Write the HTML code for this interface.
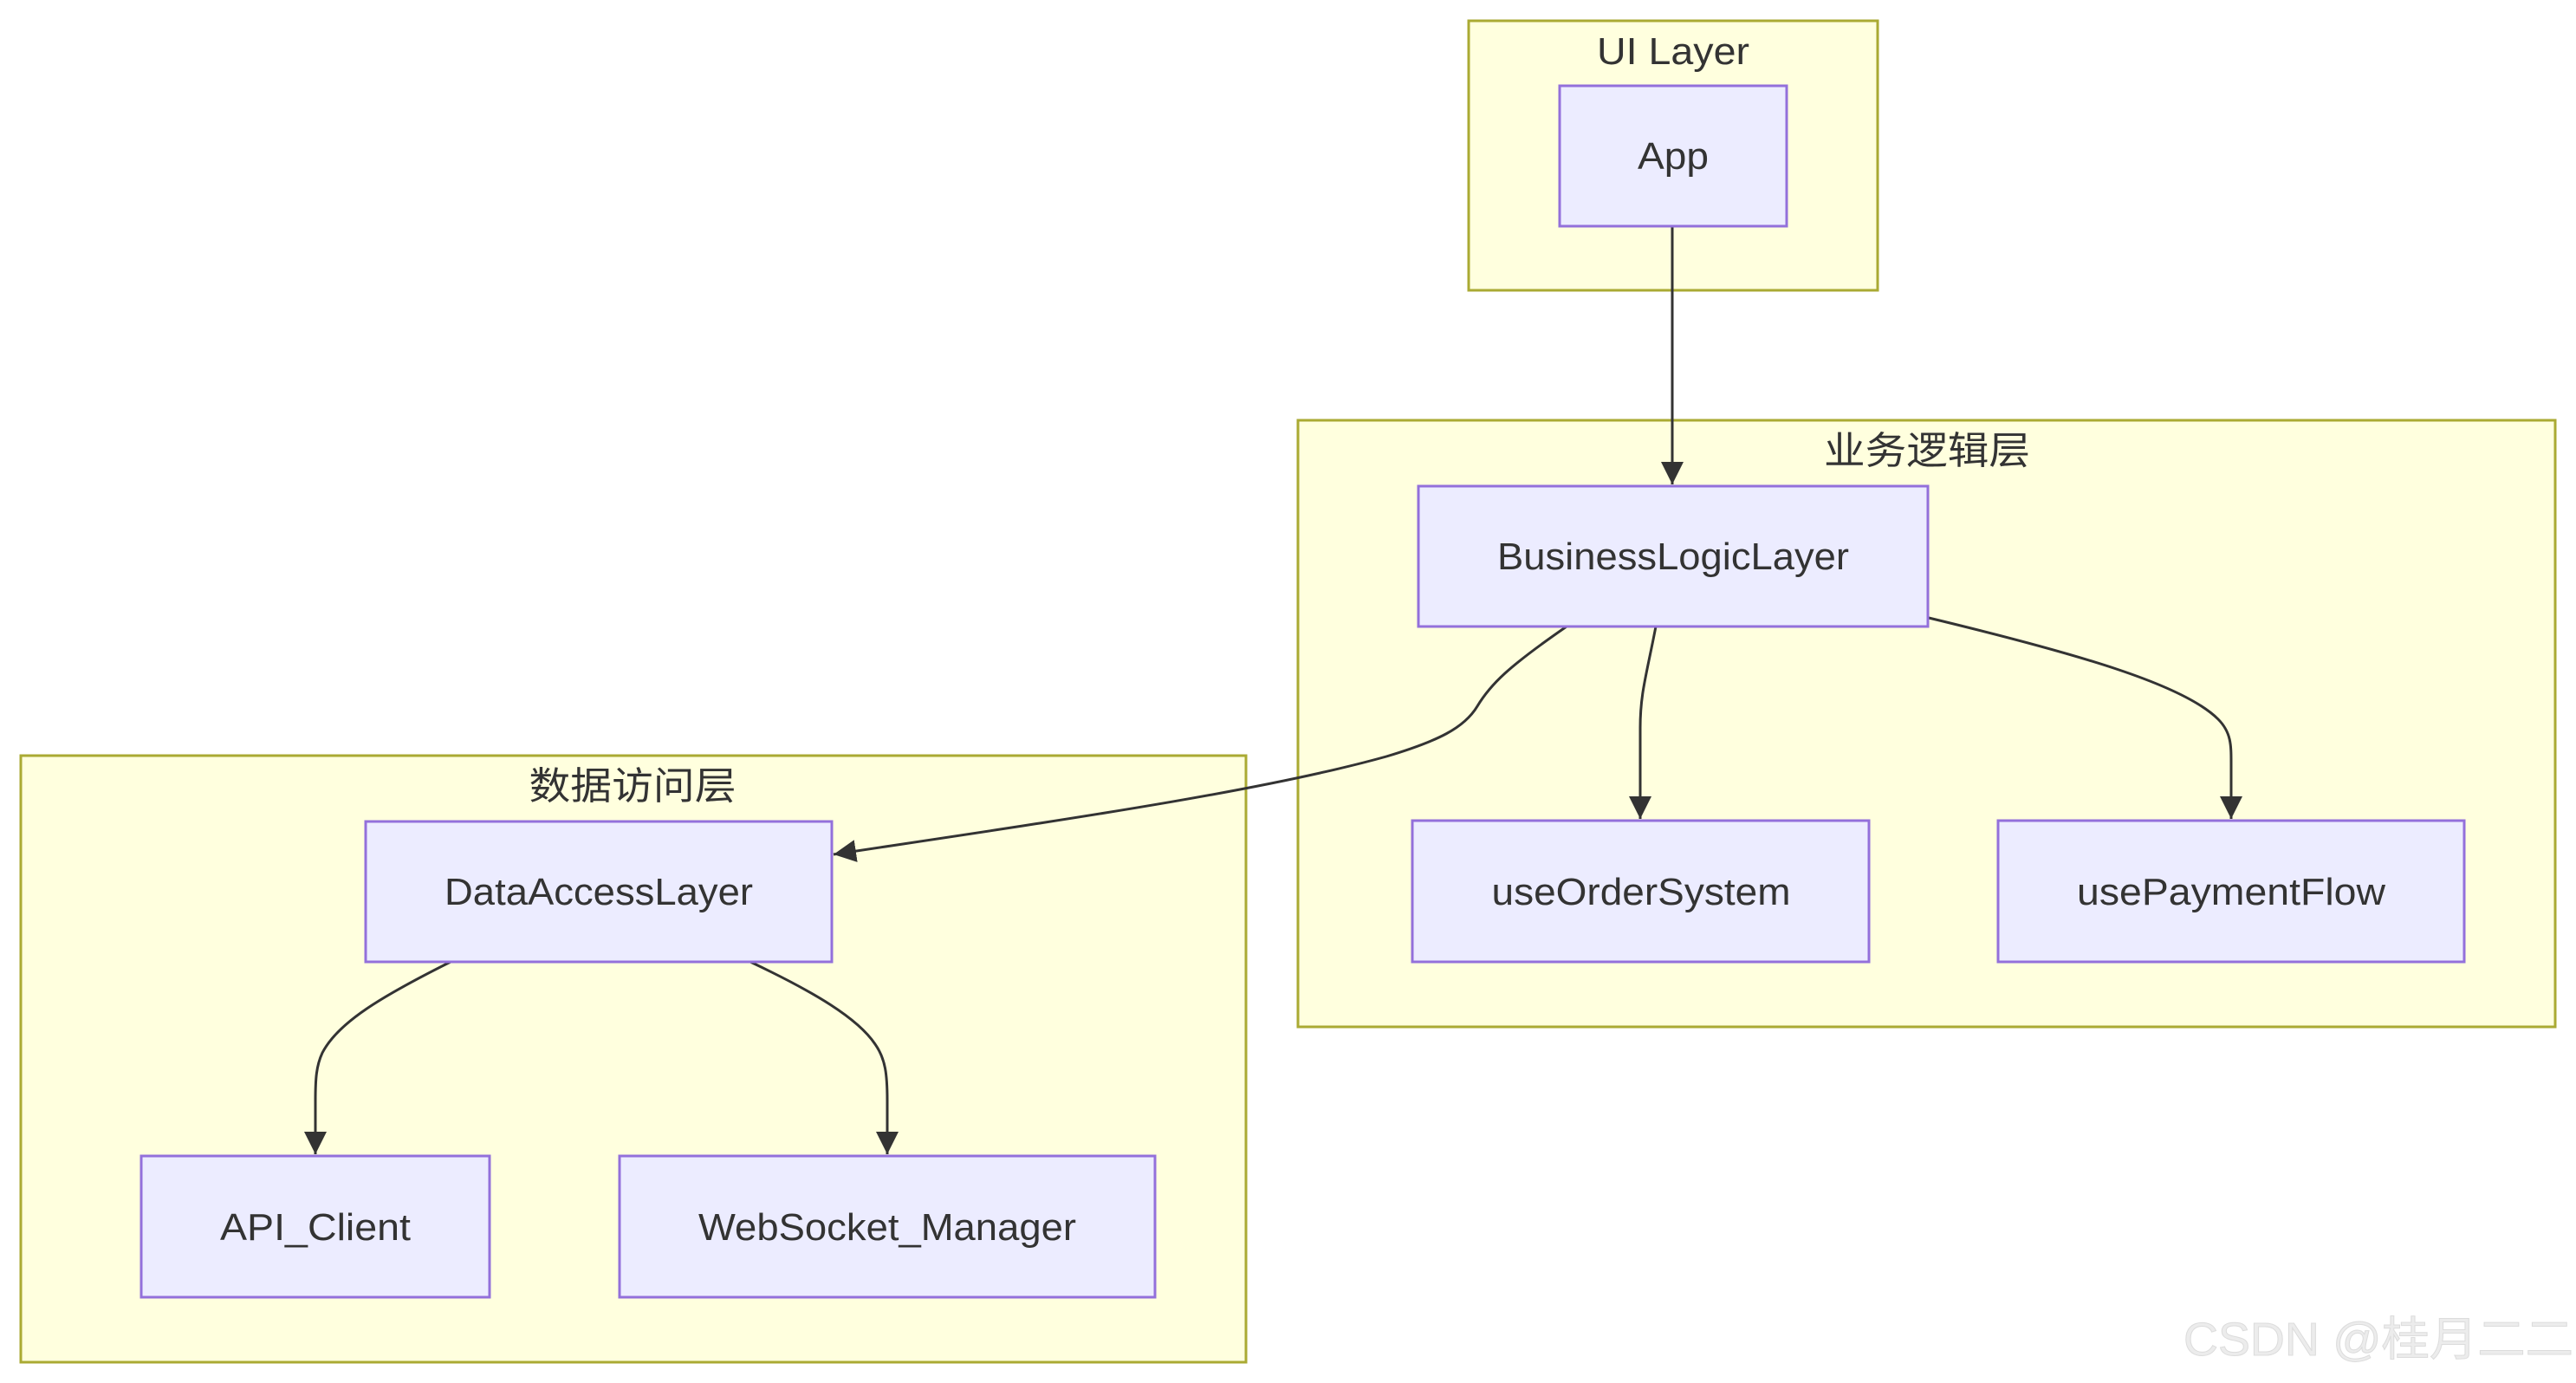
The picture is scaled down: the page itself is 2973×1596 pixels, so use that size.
<!DOCTYPE html>
<html><head><meta charset="utf-8"><style>
html,body{margin:0;padding:0;background:#fff;}
svg{display:block;}
text{font-family:"Liberation Sans","Noto Sans CJK SC",sans-serif;fill:#333;font-size:44px;}
.c{fill:#ffffde;stroke:#aaaa33;stroke-width:3;}
.n{fill:#ececff;stroke:#9370db;stroke-width:3;}
.e{fill:none;stroke:#333;stroke-width:3;}
</style></head><body>
<svg width="2973" height="1596" viewBox="0 0 2973 1596" xmlns="http://www.w3.org/2000/svg">
<defs>
<marker id="b" viewBox="0 0 10 10" refX="10" refY="5" markerWidth="26" markerHeight="26" markerUnits="userSpaceOnUse" orient="auto"><path d="M0,0L10,5L0,10z" fill="#333"/></marker></defs>
<rect class="c" x="1695" y="24" width="472" height="311"/>
<rect class="c" x="1498" y="485" width="1451" height="700"/>
<rect class="c" x="24" y="872" width="1414" height="700"/>
<text x="1931" y="74" text-anchor="middle" textLength="176" lengthAdjust="spacingAndGlyphs">UI Layer</text>
<text x="2224" y="535" text-anchor="middle" textLength="238" lengthAdjust="spacingAndGlyphs">业务逻辑层</text>
<text x="730" y="922" text-anchor="middle" textLength="239" lengthAdjust="spacingAndGlyphs">数据访问层</text>
<path class="e" d="M1930,261 L1930,559" marker-end="url(#b)"/>
<path class="e" d="M1911,723 C1900,780 1893,800 1893,840 L1893,945" marker-end="url(#b)"/>
<path class="e" d="M2226,713 C2400,755 2520,790 2560,830 C2575,845 2575,860 2575,880 L2575,945" marker-end="url(#b)"/>
<path class="e" d="M1808,723 C1740,770 1720,790 1705,815 C1690,840 1660,855 1600,873 C1450,915 1200,950 962,986" marker-end="url(#b)"/>
<path class="e" d="M520,1110 C440,1150 390,1180 372,1215 C365,1230 364,1245 364,1270 L364,1332" marker-end="url(#b)"/>
<path class="e" d="M866,1110 C940,1145 990,1175 1010,1205 C1022,1222 1024,1240 1024,1270 L1024,1332" marker-end="url(#b)"/>
<rect class="n" x="1800" y="99" width="262" height="162"/>
<rect class="n" x="1637" y="561" width="588" height="162"/>
<rect class="n" x="1630" y="947" width="527" height="163"/>
<rect class="n" x="2306" y="947" width="538" height="163"/>
<rect class="n" x="422" y="948" width="538" height="162"/>
<rect class="n" x="163" y="1334" width="402" height="163"/>
<rect class="n" x="715" y="1334" width="618" height="163"/>
<text x="1931" y="195" text-anchor="middle" textLength="82" lengthAdjust="spacingAndGlyphs">App</text>
<text x="1931" y="657" text-anchor="middle" textLength="406" lengthAdjust="spacingAndGlyphs">BusinessLogicLayer</text>
<text x="1894" y="1044" text-anchor="middle" textLength="345" lengthAdjust="spacingAndGlyphs">useOrderSystem</text>
<text x="2575" y="1044" text-anchor="middle" textLength="356" lengthAdjust="spacingAndGlyphs">usePaymentFlow</text>
<text x="691" y="1044" text-anchor="middle" textLength="356" lengthAdjust="spacingAndGlyphs">DataAccessLayer</text>
<text x="364" y="1431" text-anchor="middle" textLength="220" lengthAdjust="spacingAndGlyphs">API_Client</text>
<text x="1024" y="1431" text-anchor="middle" textLength="436" lengthAdjust="spacingAndGlyphs">WebSocket_Manager</text>
<text x="2520" y="1564" textLength="450" lengthAdjust="spacingAndGlyphs" style="font-size:54px;fill:#ececec;stroke:#dcdcdc;stroke-width:1">CSDN @桂月二二</text>
</svg>
</body></html>
